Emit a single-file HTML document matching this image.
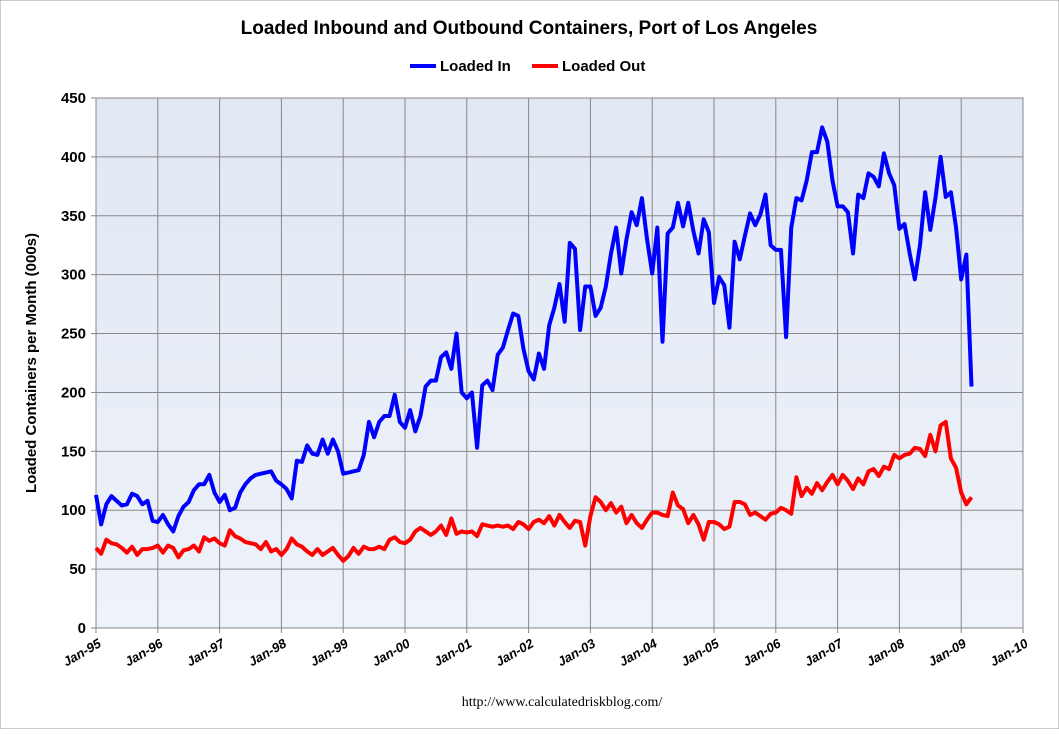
<!DOCTYPE html>
<html><head><meta charset="utf-8"><style>
body{margin:0;background:#fff;width:1059px;height:729px;overflow:hidden;font-family:"Liberation Sans",sans-serif}
</style></head><body>
<svg id="c" width="1059" height="729" xmlns="http://www.w3.org/2000/svg">
<defs><linearGradient id="bg" x1="0" y1="0" x2="0" y2="1"><stop offset="0" stop-color="#e1e8f4"/><stop offset="1" stop-color="#eef2f9"/></linearGradient></defs>
<rect width="1059" height="729" fill="#fff" stroke="#999"/>
<text x="529" y="34" text-anchor="middle" font-size="19" font-weight="bold">Loaded Inbound and Outbound Containers, Port of Los Angeles</text>
<g>
<line x1="410" y1="66" x2="436" y2="66" stroke="#0000ff" stroke-width="4"/>
<text x="440" y="71" font-size="15" font-weight="bold">Loaded In</text>
<line x1="532" y1="66" x2="558" y2="66" stroke="#ff0000" stroke-width="4"/>
<text x="562" y="71" font-size="15" font-weight="bold">Loaded Out</text>
</g>
<rect x="96" y="98" width="927" height="530" fill="url(#bg)" stroke="#888"/>
<g id="grid"></g><g id="axes"></g><g id="series"></g>
<text transform="translate(36,363) rotate(-90)" text-anchor="middle" font-size="15" font-weight="bold">Loaded Containers per Month (000s)</text>
<text x="562" y="706" text-anchor="middle" font-size="14" font-family="Liberation Serif,serif">http://www.calculatedriskblog.com/</text>
</svg>
<script>
const yTicks=[0,50,100,150,200,250,300,350,400,450];
const xLabels=["Jan-95","Jan-96","Jan-97","Jan-98","Jan-99","Jan-00","Jan-01","Jan-02","Jan-03","Jan-04","Jan-05","Jan-06","Jan-07","Jan-08","Jan-09","Jan-10"];
const loadedIn=[113,88,105,112,108,104,105,114,112,105,108,91,
90,96,88,82,95,103,107,117,122,122,130,115,
107,113,100,102,115,122,127,130,131,132,133,125,
122,118,110,142,141,155,148,147,160,148,160,150,
131,132,133,134,147,175,162,175,180,180,198,175,
170,185,167,180,205,210,210,230,234,220,250,200,
195,200,153,206,210,202,232,238,253,267,265,237,
218,211,233,220,257,272,292,260,327,322,253,290,
290,265,272,290,318,340,301,330,353,342,365,330,
301,340,243,335,340,361,341,361,337,318,347,336,
276,298,291,255,328,313,333,352,342,351,368,325,
321,321,247,340,365,363,380,404,404,425,413,380,
358,358,353,318,368,365,386,383,375,403,386,376,
339,343,318,296,325,370,338,365,400,366,370,340,
296,317,205];
const loadedOut=[68,63,75,72,71,68,64,69,62,67,67,68,
70,64,70,68,60,66,67,70,65,77,74,76,
72,70,83,78,76,73,72,71,67,73,65,67,
62,67,76,71,69,65,62,67,62,65,68,62,
57,61,68,63,69,67,67,69,67,75,77,73,
72,75,82,85,82,79,82,87,79,93,80,82,
81,82,78,88,87,86,87,86,87,84,90,88,
84,90,92,89,95,87,96,90,85,91,90,70,
95,111,107,100,106,98,103,89,96,89,85,92,
98,98,96,95,115,104,101,89,96,88,75,90,
90,88,84,86,107,107,105,96,98,95,92,97,
98,102,100,97,128,112,119,114,123,117,124,130,
122,130,125,118,127,122,133,135,129,137,135,147,
144,147,148,153,152,146,164,150,172,175,144,136,
115,105,111];
const X0=96,X1=1023,Y0=628,Y1=98,NM=180;
const xs=m=>X0+(X1-X0)*m/NM, ys=v=>Y0-(Y0-Y1)*v/450;
const NS="http://www.w3.org/2000/svg";
function mk(t,a,p){const e=document.createElementNS(NS,t);for(const k in a)e.setAttribute(k,a[k]);p.appendChild(e);return e;}
const grid=document.getElementById('grid'),axes=document.getElementById('axes'),ser=document.getElementById('series');
yTicks.forEach(v=>{const y=ys(v);
 if(v>0){const l=mk('line',{x1:X0,x2:X1,y1:y,y2:y,stroke:'#888','stroke-width':1},grid);
 
 }
 mk('line',{x1:X0-5,x2:X0,y1:y,y2:y,stroke:'#888'},axes);
 const t=mk('text',{x:X0-10,y:y+5,'text-anchor':'end','font-size':15,'font-weight':'bold'},axes);t.textContent=v;
 
 
});
xLabels.forEach((s,i)=>{const x=xs(i*12);
 if(i>0&&i<xLabels.length-1){const l=mk('line',{x1:x,x2:x,y1:Y1,y2:Y0,stroke:'#888'},grid);
 
 }
 mk('line',{x1:x,x2:x,y1:Y0,y2:Y0+5,stroke:'#888'},axes);
 const t=mk('text',{x:x+6,y:Y0+18,'text-anchor':'end','font-size':13,'font-weight':'bold','font-style':'italic',transform:`rotate(-30 ${x+6} ${Y0+18})`},axes);t.textContent=s;
 
 
});
function line(d,c,n){const p=mk('polyline',{points:d.map((v,i)=>xs(i)+','+ys(v)).join(' '),fill:'none',stroke:c,'stroke-width':4,'stroke-linejoin':'round'},ser);
 
 }
line(loadedOut,'#ff0000','series-loaded-out');
line(loadedIn,'#0000ff','series-loaded-in');
</script>
</body></html>
